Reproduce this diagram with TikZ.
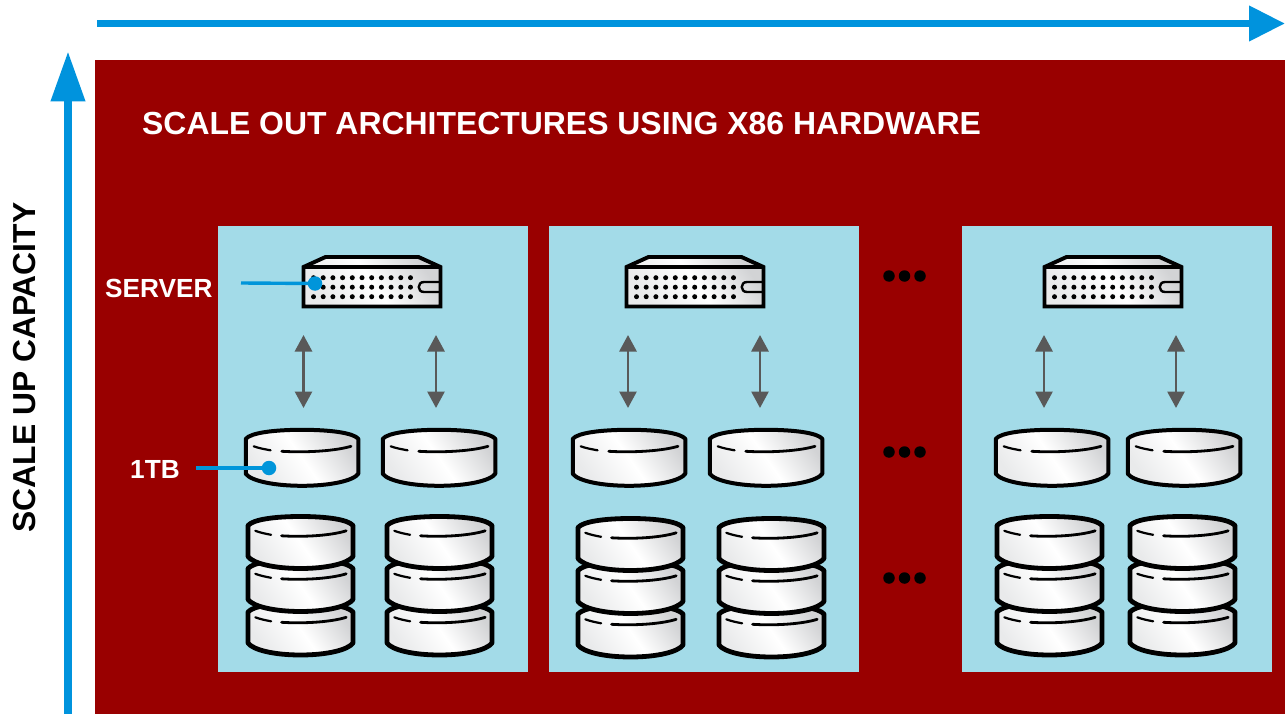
\documentclass[tikz,border=0pt]{standalone}
\usepackage{fontspec}
\setmainfont{Liberation Sans}
\usetikzlibrary{arrows.meta}
\definecolor{axisblue}{HTML}{0093DD}
\definecolor{callblue}{HTML}{0095DA}
\definecolor{bgred}{HTML}{990000}
\definecolor{panelblue}{HTML}{A3DBE8}
\definecolor{arrowgrey}{HTML}{595959}
\definecolor{metallight}{HTML}{E9EAEB}
\definecolor{metaldark}{HTML}{D2D3D5}
\tikzset{
  x=1pt,y=-1pt,
  metal/.style={left color=metallight,right color=metaldark,middle color=white,shading angle=125},
  panel/.style={fill=panelblue,draw=none},
  axisline/.style={draw=axisblue,line width=7.4pt},
  iolink/.style={draw=arrowgrey,line width=2.8pt,{Triangle[length=16.5pt,width=17pt]}-{Triangle[length=16.5pt,width=17pt]}},
  callout/.style={draw=callblue,line width=3.4pt},
  calldot/.style={circle,fill=callblue,draw=none,inner sep=0pt,minimum size=14.5pt},
  blackdot/.style={circle,fill=black,draw=none,inner sep=0pt,minimum size=11.5pt},
  label/.style={text=white,font=\bfseries\fontsize{26.2}{26.2}\selectfont,inner sep=0pt},
  server/.pic={
    \path[metal,draw=black,line width=3.9pt,line join=miter]
      (-0.5,10)--(21.5,0)--(114.5,0)--(136.5,10)--(136.5,49.5)--(-0.5,49.5)--cycle;
    \draw[black,line width=3.6pt] (-0.5,10)--(136.5,10);
    \foreach \r in {20.7,30.2,39.7}{
      \foreach \c in {0,...,10}{
        \fill[black] ({9.5+9.7*\c},\r) circle[radius=2.5pt];
      }
    }
    \draw[black,line width=2.4pt,line cap=butt] (135,25) -- (120,25)
      .. controls (113,25) and (113,35) .. (120,35) -- (135,35);
  },
  pics/disk/.style n args={4}{code={
    \path[metal,draw=black,line width=#3pt,line join=round]
      (0,9) .. controls (5,3) and (#1*0.25,0) .. (#1*0.5,0)
      .. controls (#1*0.75,0) and (#1-5,3) .. (#1,9)
      -- (#1,9+#2)
      .. controls (#1-5,9+#2+7) and (#1*0.75,9+#2+12) .. (#1*0.5,9+#2+12)
      .. controls (#1*0.25,9+#2+12) and (5,9+#2+7) .. (0,9+#2) -- cycle;
    \draw[black,line width=2.2pt,line cap=round]
      (#1*0.07,16.5-#4) .. controls (#1*0.12,18.5-#4) and (#1*0.17,19.5-#4) .. (#1*0.22,20.5-#4);
    \draw[black,line width=2.8pt,line cap=round]
      (#1*0.32,21.5-#4) .. controls (#1*0.55,23-#4) and (#1*0.8,21-#4) .. (#1*0.935,16.5-#4);
  }},
  stack/.pic={
    \pic at (0,86.5) {disk={105}{31}{4.8}{2.2}};
    \pic at (0,43) {disk={105}{31}{4.8}{2.2}};
    \pic at (0,0) {disk={105}{31}{4.8}{2.2}};
  },
}
\begin{document}
\begin{tikzpicture}
\useasboundingbox (0,0) rectangle (1285,714);
\path[fill=white] (0,0) rectangle (1285,714);
\path[fill=bgred] (95,60) rectangle (1285,714);
\path[panel] (218,226) rectangle (528,672);
\path[panel] (549,226) rectangle (859,672);
\path[panel] (962,226) rectangle (1272,672);

\coordinate (hs) at (97,23.5);
\coordinate (he) at (1285,23.5);
\coordinate (vs) at (68,714);
\coordinate (ve) at (68,51.5);
\draw[axisline,-{Triangle[length=36pt,width=34pt]}] (hs) -- (he);
\draw[axisline,-{Triangle[length=50pt,width=33pt]}] (vs) -- (ve);

\node[anchor=base west,inner sep=0pt,text=white,font=\bfseries\fontsize{31.92}{31.92}\selectfont] (title) at (142,134.5) {SCALE OUT ARCHITECTURES USING X86 HARDWARE};
\node[anchor=base,inner sep=0pt,rotate=90,text=black,font=\bfseries\fontsize{31.8}{31.8}\selectfont] (yaxis) at (35,367.5) {SCALE UP CAPACITY};

\pic at (304,257) {server};
\pic at (627,257) {server};
\pic at (1045,257) {server};

\foreach \n/\x in {a/303.5,b/436,c/628,d/760,e/1044,f/1176}{
  \coordinate (\n t) at (\x,335);
  \coordinate (\n b) at (\x,408);
  \draw[iolink] (\n t) -- (\n b);
}

\foreach \x in {245.8,382.8,572.8,709.8,995.8,1127.8}{
  \pic at (\x,429.8) {disk={112.5}{35}{4}{0}};
}
\foreach \x/\y in {248/516.5,387/516.5,578/518.5,719/518.5,997/516.5,1130/516.5}{
  \pic at (\x,\y) {stack};
}

\foreach \r/\y in {u/276,m/452,l/578}{
  \foreach \i/\x in {1/889,2/904.5,3/920}{
    \node[blackdot] (dot\r\i) at (\x,\y) {};
  }
}

\node[label,anchor=base west] (serverlabel) at (105,297) {SERVER};
\node[label,anchor=base west] (tblabel) at (130,478.5) {1TB};
\coordinate (sc) at (241,283);
\coordinate (tc) at (196,468);
\node[calldot] (sd) at (315,283.5) {};
\node[calldot] (td) at (269,468) {};
\draw[callout] (sc) -- (sd.center);
\draw[callout] (tc) -- (td.center);
\end{tikzpicture}
\end{document}
